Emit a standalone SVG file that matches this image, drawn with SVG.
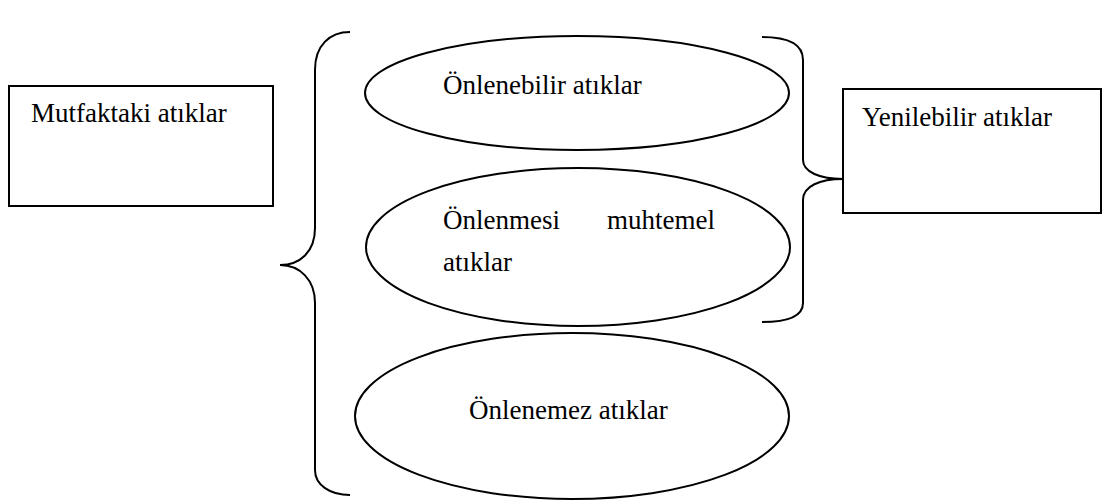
<svg xmlns="http://www.w3.org/2000/svg" width="1103" height="502" viewBox="0 0 1103 502">
<style>
.s{fill:none;stroke:#000;stroke-width:2}
.b{fill:#fff;stroke:#000;stroke-width:2}
text{font-family:"Liberation Serif","Times New Roman",serif;font-size:27px;fill:#000}
</style>
<rect width="1103" height="502" fill="#fff"/>
<g id="connectors">
<path class="s" d="M350,32 C330,32 315,45 315,70 L315,228 C315,252 300,265 280,265 C300,265 315,280 315,303 L315,470 C315,485 330,495 350,495"/>
<path class="s" d="M762,37 C790,37 803,45 803,60 L803,160 C803,172 820,179 843,179 C820,179 803,186 803,200 L803,303 C803,315 790,322 762,322"/>
</g>
<g id="mutfak">
<rect class="b" x="9" y="86" width="264" height="120"/>
<text x="31" y="122">Mutfaktaki atıklar</text>
</g>
<g id="yenilebilir">
<rect class="b" x="843" y="89" width="258" height="124"/>
<text x="862" y="126">Yenilebilir atıklar</text>
</g>
<g id="onlenebilir">
<ellipse class="s" cx="577" cy="93" rx="212" ry="57"/>
<text x="443" y="94">Önlenebilir atıklar</text>
</g>
<g id="onlenmesi">
<ellipse class="s" cx="578" cy="247" rx="212" ry="79"/>
<text x="443" y="229">Önlenmesi</text>
<text x="715" y="229" text-anchor="end">muhtemel</text>
<text x="443" y="271">atıklar</text>
</g>
<g id="onlenemez">
<ellipse class="s" cx="572" cy="416" rx="217" ry="83"/>
<text x="469" y="419">Önlenemez atıklar</text>
</g>
</svg>
